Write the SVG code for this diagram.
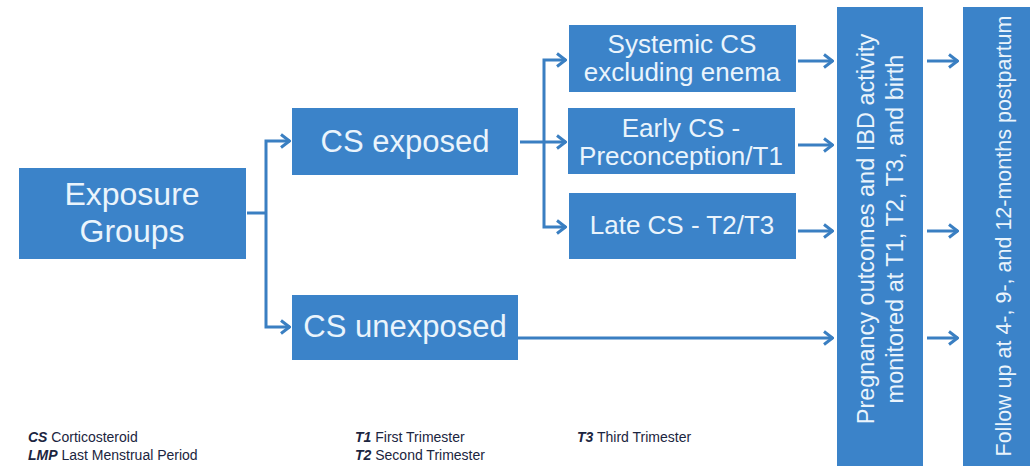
<svg xmlns="http://www.w3.org/2000/svg" width="1030" height="466" viewBox="0 0 1030 466">
  <style>
    .box { fill: #3b83c9; }
    .lbl { font-family: "Liberation Sans", Arial, sans-serif; fill: #eaf4fc; text-anchor: middle; }
    .conn { fill: none; stroke: #3a7fc2; stroke-width: 3; }
    .leg { font-family: "Liberation Sans", Arial, sans-serif; font-size: 14px; fill: #1b2540; }
    .ab { font-weight: bold; font-style: italic; }
  </style>
  <defs>
    <marker id="arr" viewBox="0 0 12 16" refX="11" refY="8" markerWidth="12" markerHeight="16" markerUnits="userSpaceOnUse" orient="auto">
      <polyline points="2,1.5 10.5,8 2,14.5" fill="none" stroke="#3a7fc2" stroke-width="3"/>
    </marker>
  </defs>
  <rect width="1030" height="466" fill="#ffffff"/>

  <g id="connectors" class="conn">
    <polyline points="247,213 266,213"/>
    <polyline points="266,213 266,141 290,141" marker-end="url(#arr)"/>
    <polyline points="266,213 266,327 290,327" marker-end="url(#arr)"/>
    <polyline points="520,142 566,142" marker-end="url(#arr)"/>
    <polyline points="544,142 544,60 566,60" marker-end="url(#arr)"/>
    <polyline points="544,142 544,227 566,227" marker-end="url(#arr)"/>
    <polyline points="798,61 833,61" marker-end="url(#arr)"/>
    <polyline points="798,145 833,145" marker-end="url(#arr)"/>
    <polyline points="798,231 833,231" marker-end="url(#arr)"/>
    <polyline points="518,338 833,338" marker-end="url(#arr)"/>
    <polyline points="927,61 958,61" marker-end="url(#arr)"/>
    <polyline points="927,231 958,231" marker-end="url(#arr)"/>
    <polyline points="927,338 958,338" marker-end="url(#arr)"/>
  </g>

  <g id="exposure-groups">
    <rect class="box" x="19" y="168" width="227" height="91"/>
    <text class="lbl" x="132" y="205" font-size="32">Exposure</text>
    <text class="lbl" x="132" y="242" font-size="32">Groups</text>
  </g>

  <g id="cs-exposed">
    <rect class="box" x="292" y="108" width="226" height="67"/>
    <text class="lbl" x="405" y="152" font-size="31">CS exposed</text>
  </g>

  <g id="cs-unexposed">
    <rect class="box" x="292" y="295" width="226" height="65"/>
    <text class="lbl" x="405" y="337" font-size="31">CS unexposed</text>
  </g>

  <g id="systemic-cs">
    <rect class="box" x="569" y="25" width="227" height="67"/>
    <text class="lbl" x="682" y="53" font-size="26">Systemic CS</text>
    <text class="lbl" x="682" y="81" font-size="26">excluding enema</text>
  </g>

  <g id="early-cs">
    <rect class="box" x="568" y="108" width="227" height="66"/>
    <text class="lbl" x="681" y="137" font-size="26">Early CS -</text>
    <text class="lbl" x="681" y="165" font-size="26">Preconception/T1</text>
  </g>

  <g id="late-cs">
    <rect class="box" x="569" y="193" width="227" height="66"/>
    <text class="lbl" x="682" y="234" font-size="26">Late CS - T2/T3</text>
  </g>

  <g id="pregnancy-outcomes">
    <rect class="box" x="837" y="7" width="86" height="459"/>
    <text class="lbl" font-size="23.5" transform="translate(874,229) rotate(-90)">Pregnancy outcomes and IBD activity</text>
    <text class="lbl" font-size="23.5" transform="translate(903,229) rotate(-90)">monitored at T1, T2, T3, and birth</text>
  </g>

  <g id="follow-up">
    <rect class="box" x="963" y="7" width="67" height="459"/>
    <text class="lbl" font-size="21.5" transform="translate(1011,236) rotate(-90)">Follow up at 4-, 9-, and 12-months postpartum</text>
  </g>

  <g id="legend" class="leg">
    <text x="28" y="442"><tspan class="ab">CS</tspan> Corticosteroid</text>
    <text x="28" y="460"><tspan class="ab">LMP</tspan> Last Menstrual Period</text>
    <text x="355" y="442"><tspan class="ab">T1</tspan> First Trimester</text>
    <text x="355" y="460"><tspan class="ab">T2</tspan> Second Trimester</text>
    <text x="577" y="442"><tspan class="ab">T3</tspan> Third Trimester</text>
  </g>
</svg>
